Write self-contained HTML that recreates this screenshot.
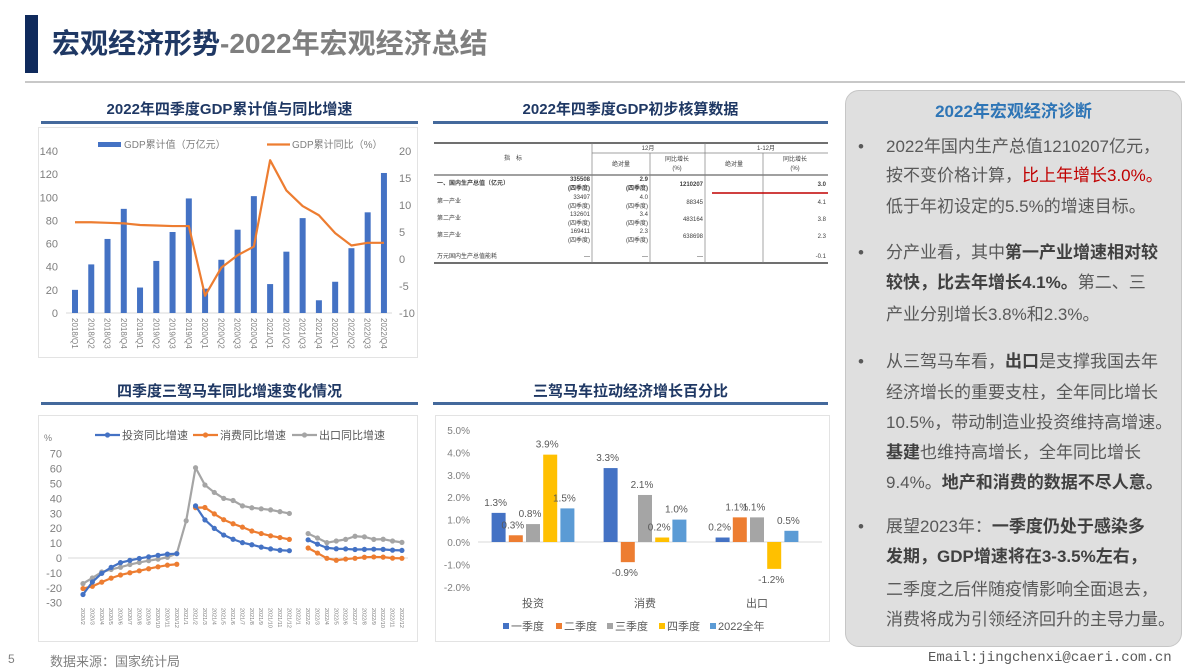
<!DOCTYPE html>
<html><head><meta charset="utf-8">
<style>
*{margin:0;padding:0;box-sizing:border-box}
body{width:1190px;height:670px;background:#fff;position:relative;overflow:hidden;font-family:"Liberation Sans","Noto Sans CJK SC",sans-serif}
.abs{position:absolute}
.sec-title{position:absolute;font-size:15px;font-weight:bold;color:#1f3864;text-align:center;white-space:nowrap;font-family:"Liberation Sans","Noto Sans CJK SC",sans-serif}
.uline{position:absolute;height:3px;background:#44699c}
.frame{position:absolute;border:1px solid #e3e3e3}
#panel{position:absolute;left:845px;top:90px;width:337px;height:557px;background:#dfdfdf;border:1px solid #c6c6c6;border-radius:14px}
.ln{position:absolute;left:886px;font-size:17px;line-height:24px;color:#595959;white-space:nowrap;font-family:"Liberation Sans","Noto Sans CJK SC",sans-serif}
.ln b{color:#404040}
.bul{position:absolute;left:858px;font-size:17px;line-height:24px;color:#595959}
</style></head>
<body>
<div class="abs" style="left:25px;top:15px;width:13px;height:58px;background:#0f2a5c"></div>
<div class="abs" style="left:52px;top:24px;font-size:28px;font-weight:bold;white-space:nowrap;line-height:40px"><span style="color:#1f3864">宏观经济形势</span><span style="color:#7f7f7f">-2022年宏观经济总结</span></div>
<div class="abs" style="left:25px;top:81px;width:1160px;height:2px;background:#c8c8c8"></div>

<div class="sec-title" style="left:41px;width:377px;top:98px">2022年四季度GDP累计值与同比增速</div>
<div class="uline" style="left:41px;width:377px;top:121px"></div>
<div class="sec-title" style="left:433px;width:395px;top:98px">2022年四季度GDP初步核算数据</div>
<div class="uline" style="left:433px;width:395px;top:121px"></div>
<div class="sec-title" style="left:41px;width:377px;top:380px">四季度三驾马车同比增速变化情况</div>
<div class="uline" style="left:41px;width:377px;top:402px"></div>
<div class="sec-title" style="left:433px;width:395px;top:380px">三驾马车拉动经济增长百分比</div>
<div class="uline" style="left:433px;width:395px;top:402px"></div>

<div class="frame" style="left:38px;top:127px;width:380px;height:231px"></div>
<div class="frame" style="left:38px;top:415px;width:380px;height:227px"></div>
<div class="frame" style="left:435px;top:415px;width:395px;height:227px"></div>

<svg id="svg" class="abs" style="left:0;top:0" width="1190" height="670"></svg>

<div id="panel"></div>
<div class="abs" style="left:845px;width:337px;top:97px;text-align:center;font-size:17px;font-weight:bold;color:#2e75b6">2022年宏观经济诊断</div>
<div class="bul" style="top:135px">•</div>
<div class="ln" style="top:135px">2022年国内生产总值1210207亿元，</div>
<div class="ln" style="top:164px">按不变价格计算，<span style="color:#c00000">比上年增长3.0%。</span></div>
<div class="ln" style="top:195px">低于年初设定的5.5%的增速目标。</div>
<div class="bul" style="top:241px">•</div>
<div class="ln" style="top:241px">分产业看，其中<b>第一产业增速相对较</b></div>
<div class="ln" style="top:271px"><b>较快，比去年增长4.1%。</b>第二、三</div>
<div class="ln" style="top:303px">产业分别增长3.8%和2.3%。</div>
<div class="bul" style="top:350px">•</div>
<div class="ln" style="top:350px">从三驾马车看，<b>出口</b>是支撑我国去年</div>
<div class="ln" style="top:381px">经济增长的重要支柱，全年同比增长</div>
<div class="ln" style="top:411px">10.5%，带动制造业投资维持高增速。</div>
<div class="ln" style="top:441px"><b>基建</b>也维持高增长，全年同比增长</div>
<div class="ln" style="top:471px">9.4%。<b>地产和消费的数据不尽人意。</b></div>
<div class="bul" style="top:515px">•</div>
<div class="ln" style="top:515px">展望2023年：<b>一季度仍处于感染多</b></div>
<div class="ln" style="top:545px"><b>发期，GDP增速将在3-3.5%左右，</b></div>
<div class="ln" style="top:578px">二季度之后伴随疫情影响全面退去，</div>
<div class="ln" style="top:608px">消费将成为引领经济回升的主导力量。</div>

<div class="abs" style="left:8px;top:652px;font-size:12px;color:#7f7f7f">5</div>
<div class="abs" style="left:50px;top:651px;font-size:13px;color:#7f7f7f">数据来源：国家统计局</div>
<div class="abs" style="left:928px;top:650px;font-size:14px;color:#595959;font-family:'Liberation Mono',monospace">Email:jingchenxi@caeri.com.cn</div>

<script>
// ---------- Chart 1 data ----------
const gdpCategories = ["2018/Q1","2018/Q2","2018/Q3","2018/Q4","2019/Q1","2019/Q2","2019/Q3","2019/Q4","2020/Q1","2020/Q2","2020/Q3","2020/Q4","2021/Q1","2021/Q2","2021/Q3","2021/Q4","2022/Q1","2022/Q2","2022/Q3","2022/Q4"];
const gdpValues = [20,42,64,90,22,45,70,99,21,46,72,101,25,53,82,11,27,56,87,121];
const gdpYoy = [6.8,6.8,6.7,6.6,6.3,6.2,6.1,6.1,-6.8,-1.6,0.7,2.3,18.3,12.7,9.8,8.1,4.8,2.5,3.0,3.0];
const gdpLeftTicks = [0,20,40,60,80,100,120,140];
const gdpRightTicks = [-10,-5,0,5,10,15,20];

// ---------- Chart 3 data ----------
const troikaMonths = ["2020/2","2020/3","2020/4","2020/5","2020/6","2020/7","2020/8","2020/9","2020/10","2020/11","2020/12","2021/1","2021/2","2021/3","2021/4","2021/5","2021/6","2021/7","2021/8","2021/9","2021/10","2021/11","2021/12","2022/1","2022/2","2022/3","2022/4","2022/5","2022/6","2022/7","2022/8","2022/9","2022/10","2022/11","2022/12"];
const investYoy = [-24.5,-16.1,-10.3,-6.3,-3.1,-1.6,-0.3,0.8,1.8,2.6,2.9,null,35,25.6,19.9,15.4,12.6,10.3,8.9,7.3,6.1,5.2,4.9,null,12.2,9.3,6.8,6.2,6.1,5.7,5.8,5.9,5.8,5.3,5.1];
const consumeYoy = [-20.5,-19,-16.2,-13.5,-11.4,-9.9,-8.6,-7.2,-5.9,-4.8,-4.2,null,33.8,33.9,29.6,25.7,23,20.7,18.1,16.4,14.9,13.7,12.5,null,6.7,3.3,-0.2,-1.5,-0.7,-0.2,0.5,0.7,0.6,-0.1,-0.2];
const exportYoy = [-17.2,-13.4,-9.4,-7.7,-6.2,-4.4,-3,-1.8,-0.8,0.5,3,25,60.6,49,44,40,38.6,35,33.7,33,32.3,31.1,29.9,null,16.4,13.4,10.3,11.4,12.5,14.6,14.2,12.5,12.6,11.4,10.5];
const troikaTicks = [-30,-20,-10,0,10,20,30,40,50,60,70];

// ---------- Chart 4 data ----------
const contribGroups = ["投资","消费","出口"];
const contribSeriesNames = ["一季度","二季度","三季度","四季度","2022全年"];
const contribQ1 = [1.3,3.3,0.2];
const contribQ2 = [0.3,-0.9,1.1];
const contribQ3 = [0.8,2.1,1.1];
const contribQ4 = [3.9,0.2,-1.2];
const contribYear = [1.5,1.0,0.5];
const contribTicks = [-2,-1,0,1,2,3,4,5];

const NS="http://www.w3.org/2000/svg";
const svg=document.getElementById('svg');
function mk(tag,attrs,parent){const e=document.createElementNS(NS,tag);for(const k in attrs)e.setAttribute(k,attrs[k]);(parent||svg).appendChild(e);return e;}
function txt(x,y,s,attrs){const t=mk('text',Object.assign({x:x,y:y,'font-family':'Liberation Sans, Noto Sans CJK SC, sans-serif'},attrs||{}));t.textContent=s;return t;}

// ===== Chart 1 =====
(function(){
  const g=mk('g',{});
  
  
  const x=i=>75+i*16.26;
  const yL=v=>313-v*162/140;
  const yR=v=>313-(v+10)*162/30;
  gdpLeftTicks.forEach(v=>{const t=txt(58,yL(v)+4,String(v),{'font-size':11,fill:'#7f7f7f','text-anchor':'end'});g.appendChild(t);});
  gdpRightTicks.forEach(v=>{const t=txt(399,yR(v)+4,String(v),{'font-size':11,fill:'#7f7f7f'});g.appendChild(t);});
  const ax=mk('line',{x1:66,x2:392,y1:313,y2:313,stroke:'#d9d9d9'},g);
  
  gdpValues.forEach((v,i)=>{
    const r=mk('rect',{x:x(i)-3,y:yL(v),width:6,height:313-yL(v),fill:'#4472c4'},g);
    
    
  });
  const pts=gdpYoy.map((v,i)=>x(i)+','+yR(v)).join(' ');
  const pl=mk('polyline',{points:pts,fill:'none',stroke:'#ed7d31','stroke-width':2.2,'stroke-linejoin':'round'},g);
  
  
  gdpCategories.forEach((c,i)=>{
    const t=txt(0,0,c,{'font-size':8,fill:'#7f7f7f',transform:`translate(${x(i)-3},318) rotate(90)`});
    g.appendChild(t);
  });
  const s=mk('rect',{x:98,y:142,width:23,height:5,fill:'#4472c4'},g);
  
  const l1=txt(124,148,'GDP累计值（万亿元）',{'font-size':10,fill:'#7f7f7f'});g.appendChild(l1);
  const s2=mk('line',{x1:267,x2:290,y1:144.5,y2:144.5,stroke:'#ed7d31','stroke-width':2.2},g);
  
  const l2=txt(292,148,'GDP累计同比（%）',{'font-size':10,fill:'#7f7f7f'});g.appendChild(l2);
})();

// ===== Table =====
(function(){
  const g=mk('g',{});
  
  
  const f={'font-size':6,fill:'#404040'};
  mk('line',{x1:434,x2:828,y1:143,y2:143,stroke:'#404040','stroke-width':1.5},g);
  mk('line',{x1:592,x2:828,y1:153,y2:153,stroke:'#808080','stroke-width':0.7},g);
  mk('line',{x1:434,x2:828,y1:175,y2:175,stroke:'#404040','stroke-width':1},g);
  mk('line',{x1:434,x2:828,y1:263,y2:263,stroke:'#404040','stroke-width':1.5},g);
  [592,705].forEach(xx=>mk('line',{x1:xx,x2:xx,y1:143,y2:263,stroke:'#808080','stroke-width':0.7},g));
  [650,763].forEach(xx=>mk('line',{x1:xx,x2:xx,y1:153,y2:263,stroke:'#808080','stroke-width':0.7},g));
  g.appendChild(txt(513,160,'指　标',Object.assign({'text-anchor':'middle'},f)));
  g.appendChild(txt(648,150,'12月',Object.assign({'text-anchor':'middle'},f)));
  g.appendChild(txt(766,150,'1-12月',Object.assign({'text-anchor':'middle'},f)));
  [[621,'绝对量'],[734,'绝对量']].forEach(a=>g.appendChild(txt(a[0],166,a[1],Object.assign({'text-anchor':'middle'},f))));
  [677,795].forEach(xx=>{g.appendChild(txt(xx,161,'同比增长',Object.assign({'text-anchor':'middle'},f)));g.appendChild(txt(xx,170,'(%)',Object.assign({'text-anchor':'middle'},f)));});
  const rows=[['一、国内生产总值（亿元）','335508','2.9','1210207','3.0',175,true],['第一产业','33497','4.0','88345','4.1',193,false],['第二产业','132601','3.4','483164','3.8',210,false],['第三产业','169411','2.3','638698','2.3',227,false]];
  rows.forEach(r=>{
    const y=r[5];const ff=Object.assign({},f,r[6]?{'font-weight':'bold'}:{});
    g.appendChild(txt(437,y+10,r[0],ff));
    g.appendChild(txt(590,y+6,r[1],Object.assign({'text-anchor':'end'},ff)));
    g.appendChild(txt(590,y+15,'(四季度)',Object.assign({'text-anchor':'end'},ff)));
    g.appendChild(txt(648,y+6,r[2],Object.assign({'text-anchor':'end'},ff)));
    g.appendChild(txt(648,y+15,'(四季度)',Object.assign({'text-anchor':'end'},ff)));
    g.appendChild(txt(703,y+11,r[3],Object.assign({'text-anchor':'end'},ff)));
    g.appendChild(txt(826,y+11,r[4],Object.assign({'text-anchor':'end'},ff)));
  });
  g.appendChild(txt(437,258,'万元国内生产总值能耗',f));
  [[648,'—'],[703,'—'],[590,'—'],[826,'-0.1']].forEach(a=>g.appendChild(txt(a[0],258,a[1],Object.assign({'text-anchor':'end'},f))));
  const red=mk('line',{x1:712,x2:828,y1:193,y2:193,stroke:'#c00000','stroke-width':1.5},g);
  
})();

// ===== Chart 3 =====
(function(){
  const g=mk('g',{});
  
  
  const x=i=>83+i*9.38;
  const y=v=>558-v*1.49;
  troikaTicks.forEach(v=>{const t=txt(62,y(v)+4,String(v),{'font-size':11,fill:'#7f7f7f','text-anchor':'end'});g.appendChild(t);});
  const pct=txt(44,441,'%',{'font-size':9,fill:'#7f7f7f'});g.appendChild(pct);
  mk('line',{x1:68,x2:408,y1:558,y2:558,stroke:'#d9d9d9'},g);
  const series=[[exportYoy,'#a5a5a5','export-line'],[consumeYoy,'#ed7d31','consume-line'],[investYoy,'#4472c4','invest-line']];
  series.forEach(s=>{
    let seg=[];const segs=[];
    s[0].forEach((v,i)=>{if(v===null){if(seg.length)segs.push(seg);seg=[];}else seg.push([x(i),y(v)]);});
    if(seg.length)segs.push(seg);
    segs.forEach(sg=>{
      const p=mk('polyline',{points:sg.map(p=>p.join(',')).join(' '),fill:'none',stroke:s[1],'stroke-width':2.2,'stroke-linejoin':'round'},g);
      
      
    });
    s[0].forEach((v,i)=>{if(v===null)return;
      const c=mk('circle',{cx:x(i),cy:y(v),r:2.6,fill:s[1]},g);
      
      
    });
  });
  troikaMonths.forEach((m,i)=>{
    const t=txt(0,0,m,{'font-size':5.5,fill:'#7f7f7f',transform:`translate(${x(i)-2},608) rotate(90)`});
    g.appendChild(t);
  });
  const leg=[[95,'#4472c4','投资同比增速'],[193,'#ed7d31','消费同比增速'],[292,'#a5a5a5','出口同比增速']];
  leg.forEach(l=>{
    mk('line',{x1:l[0],x2:l[0]+25,y1:435,y2:435,stroke:l[1],'stroke-width':2.2},g);
    mk('circle',{cx:l[0]+12.5,cy:435,r:2.6,fill:l[1]},g);
    const t=txt(l[0]+27,439,l[2],{'font-size':11,fill:'#595959'});
    g.appendChild(t);
  });
})();

// ===== Chart 4 =====
(function(){
  const g=mk('g',{});
  
  
  const y=v=>542-v*22.4;
  const gx=i=>533+i*112;
  const colors=['#4472c4','#ed7d31','#a5a5a5','#ffc000','#5b9bd5'];
  const all=[contribQ1,contribQ2,contribQ3,contribQ4,contribYear];
  contribTicks.forEach(v=>{const t=txt(470,y(v)+4,v.toFixed(1)+'%',{'font-size':10,fill:'#7f7f7f','text-anchor':'end'});g.appendChild(t);});
  mk('line',{x1:478,x2:822,y1:542,y2:542,stroke:'#d9d9d9'},g);
  all.forEach((arr,k)=>{
    arr.forEach((v,i)=>{
      const cx=gx(i)+(k-2)*17.2;
      const r=mk('rect',{x:cx-7,y:Math.min(y(v),542),width:14,height:Math.abs(y(v)-542),fill:colors[k]},g);
      
      
      const ly=v>=0?y(v)-7:y(v)+14;
      const t=txt(cx-3,ly,v.toFixed(1)+'%',{'font-size':10,fill:'#595959','text-anchor':'middle'});
      g.appendChild(t);
    });
  });
  contribGroups.forEach((c,i)=>{const t=txt(gx(i),607,c,{'font-size':11,fill:'#595959','text-anchor':'middle'});g.appendChild(t);});
  const lx=[503,556,607,659,710];
  contribSeriesNames.forEach((n,k)=>{
    mk('rect',{x:lx[k],y:623,width:6,height:6,fill:colors[k]},g);
    const t=txt(lx[k]+8,630,n,{'font-size':11,fill:'#595959'});
    g.appendChild(t);
  });
})();
</script>
</body></html>
